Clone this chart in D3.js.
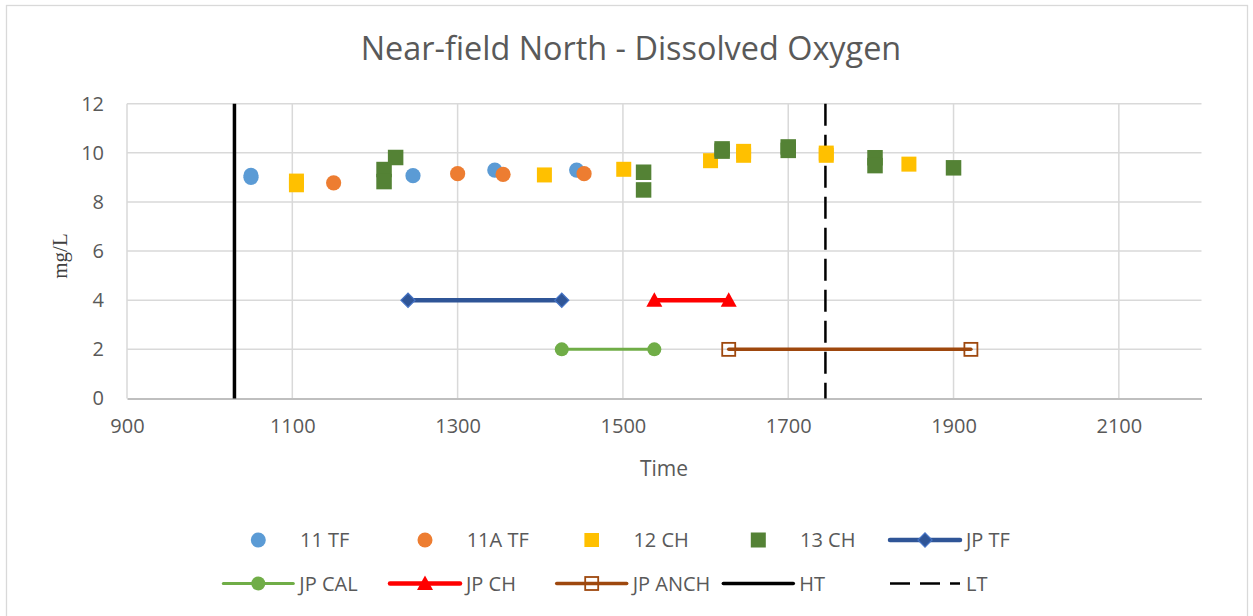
<!DOCTYPE html>
<html><head><meta charset="utf-8">
<script src="https://cdn.jsdelivr.net/npm/d3@7"></script>
<style>
html,body{margin:0;padding:0;background:#fff;}
svg{display:block;font-family:"Open Sans",sans-serif;}
</style></head>
<body><svg id="c" width="1253" height="616"></svg>
<script>
// ---- data ----
const xTicks = [900, 1100, 1300, 1500, 1700, 1900, 2100];
const yTicks = [0, 2, 4, 6, 8, 10, 12];
const tf11  = [[1050, 9.08], [1050, 9.00], [1246, 9.07], [1345, 9.30], [1444, 9.30]];
const tf11A = [[1150, 8.78], [1300, 9.15], [1355, 9.12], [1453, 9.15]];
const ch12  = [[1105, 8.85], [1105, 8.70], [1405, 9.10], [1501, 9.33], [1606, 9.68],
               [1646, 10.06], [1646, 9.90], [1746, 9.99], [1746, 9.90], [1846, 9.54]];
const ch13  = [[1211, 9.32], [1211, 8.83], [1225, 9.81], [1525, 9.21], [1525, 8.49],
               [1620, 10.16], [1620, 10.07], [1700, 10.24], [1700, 10.10],
               [1805, 9.80], [1805, 9.48], [1900, 9.39]];
const jpTF   = [[1240, 4], [1426, 4]];
const jpCAL  = [[1426, 2], [1538, 2]];
const jpCH   = [[1538, 4], [1628, 4]];
const jpANCH = [[1628, 2], [1921, 2]];
const htTime = 1030;
const ltTime = 1745;
const legendRow1 = ["11 TF", "11A TF", "12 CH", "13 CH", "JP TF"];
const legendRow2 = ["JP CAL", "JP CH", "JP ANCH", "HT", "LT"];
const titleText = "Near-field North - Dissolved Oxygen";

// ---- layout ----
const svg = d3.select("#c");
const L = 127, R = 1201.5, T = 103.7, B = 398.5;
const x = d3.scaleLinear().domain([900, 2200]).range([L, R]);
const y = d3.scaleLinear().domain([0, 12]).range([B, T]);
const textCol = "#595959";

svg.append("rect").attr("x", 6.5).attr("y", 5.5).attr("width", 1241).attr("height", 640)
  .attr("fill", "#fff").attr("stroke", "#d9d9d9").attr("stroke-width", 1.3);

svg.append("text").attr("x", 631).attr("y", 60).attr("text-anchor", "middle")
  .attr("font-size", 32.4).attr("fill", textCol).text(titleText);

// gridlines
const grid = svg.append("g");
grid.selectAll(".hg").data(yTicks.filter(d => d > 0)).join("line")
  .attr("x1", L).attr("x2", R).attr("y1", d => y(d)).attr("y2", d => y(d))
  .attr("stroke", "#d9d9d9").attr("stroke-width", 1.5);
grid.selectAll(".vg").data(xTicks).join("line")
  .attr("x1", d => x(d)).attr("x2", d => x(d)).attr("y1", T).attr("y2", B)
  .attr("stroke", "#d9d9d9").attr("stroke-width", 1.5);

// axes via d3
const xAxis = svg.append("g").attr("transform", `translate(0,${B})`)
  .call(d3.axisBottom(x).tickValues(xTicks).tickSize(0).tickPadding(20).tickFormat(d3.format("d")));
xAxis.select(".domain").attr("stroke", "#bfbfbf").attr("stroke-width", 2);
xAxis.selectAll("text").attr("font-size", 20).attr("fill", textCol).attr("font-family", "Open Sans");

const yAxis = svg.append("g").attr("transform", `translate(${L},0)`)
  .call(d3.axisLeft(y).tickValues(yTicks).tickSize(0).tickPadding(23).tickFormat(d3.format("d")));
yAxis.select(".domain").remove();
yAxis.selectAll("text").attr("font-size", 20).attr("fill", textCol).attr("font-family", "Open Sans");

svg.append("text").attr("x", 664).attr("y", 476).attr("text-anchor", "middle")
  .attr("font-size", 21).attr("fill", textCol).text("Time");
svg.append("text").attr("transform", "translate(67,256) rotate(-90)").attr("text-anchor", "middle")
  .attr("font-family", "Liberation Serif").attr("font-size", 21).attr("fill", "#404040").text("mg/L");

// ---- marker helpers ----
const line = d3.line().x(d => x(d[0])).y(d => y(d[1]));

// JP lines
function jpSeries(data, color, width, drawMarker) {
  const g = svg.append("g");
  g.append("path").attr("d", line(data)).attr("fill", "none").attr("stroke", color)
    .attr("stroke-width", width).attr("stroke-linecap", "round");
  data.forEach(d => drawMarker(g.append("g").attr("transform", `translate(${x(d[0])},${y(d[1])})`)));
}
const diamond = g => g.append("rect").attr("x", -5).attr("y", -5).attr("width", 10).attr("height", 10)
  .attr("transform", "rotate(45)").attr("fill", "#2f5597").attr("stroke", "#4472c4").attr("stroke-width", 1.2);
const greenDot = g => g.append("circle").attr("r", 7).attr("fill", "#70ad47");
const redTri = g => g.append("path").attr("d", "M0,-8L8,6.5L-8,6.5Z").attr("fill", "#ff0000");
const brownSq = g => g.append("rect").attr("x", -6.5).attr("y", -6.5).attr("width", 13).attr("height", 13)
  .attr("fill", "none").attr("stroke", "#9e480e").attr("stroke-width", 1.8);

jpSeries(jpTF, "#2f5597", 4.5, diamond);
jpSeries(jpCAL, "#70ad47", 3, greenDot);
jpSeries(jpCH, "#ff0000", 4.5, redTri);
jpSeries(jpANCH, "#9e480e", 3.5, brownSq);

// HT / LT
svg.append("line").attr("x1", x(htTime)).attr("x2", x(htTime)).attr("y1", T).attr("y2", B)
  .attr("stroke", "#000").attr("stroke-width", 3.5);
svg.append("line").attr("x1", x(ltTime)).attr("x2", x(ltTime)).attr("y1", T).attr("y2", B)
  .attr("stroke", "#000").attr("stroke-width", 2.5).attr("stroke-dasharray", "22,9");

// scatter series
function dots(data, color) {
  svg.append("g").selectAll("circle").data(data).join("circle")
    .attr("cx", d => x(d[0])).attr("cy", d => y(d[1])).attr("r", 7.6).attr("fill", color);
}
function squares(data, color, s) {
  svg.append("g").selectAll("rect").data(data).join("rect")
    .attr("x", d => x(d[0]) - s / 2).attr("y", d => y(d[1]) - s / 2)
    .attr("width", s).attr("height", s).attr("fill", color);
}
dots(tf11, "#5b9bd5");
dots(tf11A, "#ed7d31");
squares(ch12, "#ffc000", 15);
squares(ch13, "#548235", 15.5);

// ---- legend ----
const colX = [258.3, 425, 591.7, 758.3, 925];
const rowY = [540, 583.5];
const leg = svg.append("g");
function legText(tx, ty, t) {
  leg.append("text").attr("x", tx).attr("y", ty).attr("dy", "0.35em").attr("font-size", 20)
    .attr("fill", textCol).text(t);
}
const r1 = rowY[0];
leg.append("circle").attr("cx", colX[0]).attr("cy", r1).attr("r", 7.5).attr("fill", "#5b9bd5");
leg.append("circle").attr("cx", colX[1]).attr("cy", r1).attr("r", 7.5).attr("fill", "#ed7d31");
leg.append("rect").attr("x", colX[2] - 7.3).attr("y", r1 - 7).attr("width", 14.6).attr("height", 14).attr("fill", "#ffc000");
leg.append("rect").attr("x", colX[3] - 7.5).attr("y", r1 - 7.5).attr("width", 15).attr("height", 15).attr("fill", "#548235");
for (let i = 0; i < 4; i++) legText(colX[i] + 41.7, r1, legendRow1[i]);
function legLine(cx, cy, color, w, dash, marker, label) {
  leg.append("line").attr("x1", cx - 35).attr("x2", cx + 35).attr("y1", cy).attr("y2", cy)
    .attr("stroke", color).attr("stroke-width", w).attr("stroke-linecap", dash ? "butt" : "round")
    .attr("stroke-dasharray", dash || null);
  if (marker) marker(leg.append("g").attr("transform", `translate(${cx},${cy})`));
  legText(cx + 41, cy, label);
}
legLine(colX[4], r1, "#2f5597", 4.5, null, diamond, legendRow1[4]);
const r2 = rowY[1];
legLine(colX[0], r2, "#70ad47", 3, null, greenDot, legendRow2[0]);
legLine(colX[1], r2, "#ff0000", 4.5, null, redTri, legendRow2[1]);
legLine(colX[2], r2, "#9e480e", 3.5, null, brownSq, legendRow2[2]);
legLine(colX[3], r2, "#000", 3.5, null, null, legendRow2[3]);
legLine(colX[4], r2, "#000", 2.5, "20,10", null, legendRow2[4]);
</script></body></html>
